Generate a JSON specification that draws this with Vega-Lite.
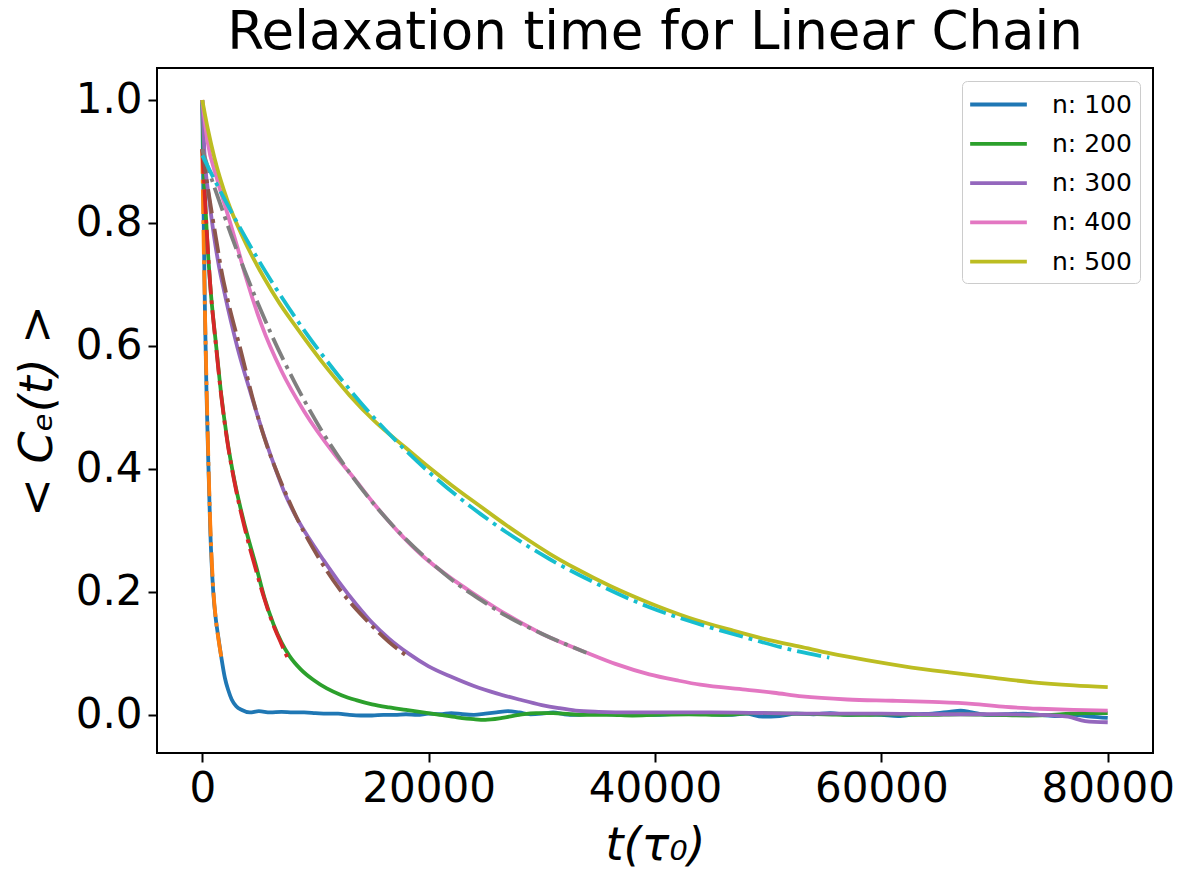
{
  "$schema": "https://vega.github.io/schema/vega-lite/v6.json",
  "width": 996,
  "height": 685,
  "autosize": {"type": "none"},
  "padding": {"left": 157, "top": 68, "right": 27, "bottom": 116},
  "background": "white",
  "config": {
    "font": "DejaVu Sans",
    "view": {"stroke": "black", "strokeWidth": 2},
    "axis": {"grid": false, "domain": false, "tickColor": "black", "tickWidth": 2, "tickSize": 9, "labelColor": "black", "titleColor": "black", "labelFontSize": 42, "titleFontSize": 46, "titleFontWeight": "normal", "titleFontStyle": "italic", "labelFlush": false, "labelPadding": 6, "labelOverlap": false}
  },
  "title": {"text": "Relaxation time for Linear Chain", "fontSize": 53, "fontWeight": "normal", "color": "black", "anchor": "middle", "offset": 8},
  "data": {
    "values": [
      {"s":"n: 100","k":"d","t":0,"c":1.0},{"s":"n: 100","k":"d","t":60,"c":0.9},{"s":"n: 100","k":"d","t":150,"c":0.77},{"s":"n: 100","k":"d","t":250,"c":0.64},{"s":"n: 100","k":"d","t":380,"c":0.52},{"s":"n: 100","k":"d","t":520,"c":0.42},{"s":"n: 100","k":"d","t":707,"c":0.3},{"s":"n: 100","k":"d","t":970,"c":0.2},{"s":"n: 100","k":"d","t":1200,"c":0.155},{"s":"n: 100","k":"d","t":1414,"c":0.127},{"s":"n: 100","k":"d","t":1680,"c":0.094},{"s":"n: 100","k":"d","t":2000,"c":0.06},{"s":"n: 100","k":"d","t":2300,"c":0.04},{"s":"n: 100","k":"d","t":2600,"c":0.025},{"s":"n: 100","k":"d","t":3000,"c":0.014},{"s":"n: 100","k":"d","t":3500,"c":0.008},{"s":"n: 100","k":"d","t":4200,"c":0.004},{"s":"n: 100","k":"d","t":5000,"c":0.006},{"s":"n: 100","k":"d","t":6000,"c":0.004},{"s":"n: 100","k":"d","t":7000,"c":0.005},{"s":"n: 100","k":"d","t":8000,"c":0.004},{"s":"n: 100","k":"d","t":9000,"c":0.004},{"s":"n: 100","k":"d","t":10000,"c":0.003},{"s":"n: 100","k":"d","t":11000,"c":0.002},{"s":"n: 100","k":"d","t":12000,"c":0.002},{"s":"n: 100","k":"d","t":13000,"c":0.0},{"s":"n: 100","k":"d","t":14000,"c":-0.001},{"s":"n: 100","k":"d","t":15000,"c":-0.001},{"s":"n: 100","k":"d","t":16000,"c":0.0},{"s":"n: 100","k":"d","t":17000,"c":0.0},{"s":"n: 100","k":"d","t":18000,"c":0.001},{"s":"n: 100","k":"d","t":19000,"c":0.0},{"s":"n: 100","k":"d","t":20000,"c":0.002},{"s":"n: 100","k":"d","t":21000,"c":0.001},{"s":"n: 100","k":"d","t":22000,"c":0.003},{"s":"n: 100","k":"d","t":23000,"c":0.001},{"s":"n: 100","k":"d","t":24000,"c":0.0},{"s":"n: 100","k":"d","t":25000,"c":0.002},{"s":"n: 100","k":"d","t":26000,"c":0.004},{"s":"n: 100","k":"d","t":27000,"c":0.006},{"s":"n: 100","k":"d","t":28000,"c":0.004},{"s":"n: 100","k":"d","t":29000,"c":0.001},{"s":"n: 100","k":"d","t":30000,"c":0.002},{"s":"n: 100","k":"d","t":31000,"c":0.004},{"s":"n: 100","k":"d","t":32000,"c":0.001},{"s":"n: 100","k":"d","t":33000,"c":0.0},{"s":"n: 100","k":"d","t":34500,"c":0.002},{"s":"n: 100","k":"d","t":36000,"c":0.001},{"s":"n: 100","k":"d","t":37500,"c":0.003},{"s":"n: 100","k":"d","t":39000,"c":0.001},{"s":"n: 100","k":"d","t":40500,"c":0.0},{"s":"n: 100","k":"d","t":42000,"c":0.002},{"s":"n: 100","k":"d","t":43500,"c":0.003},{"s":"n: 100","k":"d","t":45000,"c":0.001},{"s":"n: 100","k":"d","t":46500,"c":0.0},{"s":"n: 100","k":"d","t":48000,"c":0.002},{"s":"n: 100","k":"d","t":49500,"c":-0.003},{"s":"n: 100","k":"d","t":51000,"c":-0.002},{"s":"n: 100","k":"d","t":52500,"c":0.002},{"s":"n: 100","k":"d","t":54000,"c":0.001},{"s":"n: 100","k":"d","t":55500,"c":0.003},{"s":"n: 100","k":"d","t":57000,"c":0.0},{"s":"n: 100","k":"d","t":58500,"c":0.001},{"s":"n: 100","k":"d","t":60000,"c":0.0},{"s":"n: 100","k":"d","t":61500,"c":-0.002},{"s":"n: 100","k":"d","t":63000,"c":0.001},{"s":"n: 100","k":"d","t":64500,"c":0.002},{"s":"n: 100","k":"d","t":66000,"c":0.005},{"s":"n: 100","k":"d","t":67000,"c":0.007},{"s":"n: 100","k":"d","t":68000,"c":0.004},{"s":"n: 100","k":"d","t":69500,"c":0.0},{"s":"n: 100","k":"d","t":71000,"c":0.001},{"s":"n: 100","k":"d","t":72500,"c":0.002},{"s":"n: 100","k":"d","t":74000,"c":0.0},{"s":"n: 100","k":"d","t":75500,"c":-0.002},{"s":"n: 100","k":"d","t":77000,"c":0.0},{"s":"n: 100","k":"d","t":78500,"c":-0.003},{"s":"n: 100","k":"d","t":80000,"c":-0.005},

      {"s":"n: 200","k":"d","t":0,"c":1.0},{"s":"n: 200","k":"d","t":120,"c":0.9},{"s":"n: 200","k":"d","t":354,"c":0.8},{"s":"n: 200","k":"d","t":700,"c":0.7},{"s":"n: 200","k":"d","t":1240,"c":0.598},{"s":"n: 200","k":"d","t":1680,"c":0.52},{"s":"n: 200","k":"d","t":2210,"c":0.447},{"s":"n: 200","k":"d","t":2830,"c":0.382},{"s":"n: 200","k":"d","t":3800,"c":0.305},{"s":"n: 200","k":"d","t":4770,"c":0.241},{"s":"n: 200","k":"d","t":5500,"c":0.19},{"s":"n: 200","k":"d","t":6280,"c":0.148},{"s":"n: 200","k":"d","t":7000,"c":0.118},{"s":"n: 200","k":"d","t":7700,"c":0.096},{"s":"n: 200","k":"d","t":8700,"c":0.074},{"s":"n: 200","k":"d","t":9800,"c":0.057},{"s":"n: 200","k":"d","t":11000,"c":0.043},{"s":"n: 200","k":"d","t":12300,"c":0.032},{"s":"n: 200","k":"d","t":13600,"c":0.024},{"s":"n: 200","k":"d","t":15000,"c":0.017},{"s":"n: 200","k":"d","t":16500,"c":0.012},{"s":"n: 200","k":"d","t":18000,"c":0.008},{"s":"n: 200","k":"d","t":19500,"c":0.004},{"s":"n: 200","k":"d","t":21000,"c":0.0},{"s":"n: 200","k":"d","t":22500,"c":-0.004},{"s":"n: 200","k":"d","t":24000,"c":-0.007},{"s":"n: 200","k":"d","t":25000,"c":-0.008},{"s":"n: 200","k":"d","t":26500,"c":-0.005},{"s":"n: 200","k":"d","t":28000,"c":0.0},{"s":"n: 200","k":"d","t":29500,"c":0.003},{"s":"n: 200","k":"d","t":31000,"c":0.003},{"s":"n: 200","k":"d","t":32500,"c":0.001},{"s":"n: 200","k":"d","t":34000,"c":0.0},{"s":"n: 200","k":"d","t":36000,"c":0.0},{"s":"n: 200","k":"d","t":38000,"c":-0.001},{"s":"n: 200","k":"d","t":40000,"c":0.0},{"s":"n: 200","k":"d","t":43000,"c":0.001},{"s":"n: 200","k":"d","t":46000,"c":0.0},{"s":"n: 200","k":"d","t":49000,"c":0.003},{"s":"n: 200","k":"d","t":52000,"c":0.002},{"s":"n: 200","k":"d","t":55000,"c":0.001},{"s":"n: 200","k":"d","t":58000,"c":0.0},{"s":"n: 200","k":"d","t":61000,"c":0.001},{"s":"n: 200","k":"d","t":64000,"c":0.0},{"s":"n: 200","k":"d","t":67000,"c":0.001},{"s":"n: 200","k":"d","t":70000,"c":0.0},{"s":"n: 200","k":"d","t":73000,"c":-0.001},{"s":"n: 200","k":"d","t":76000,"c":0.001},{"s":"n: 200","k":"d","t":78000,"c":0.003},{"s":"n: 200","k":"d","t":80000,"c":0.003},

      {"s":"n: 300","k":"d","t":0,"c":1.0},{"s":"n: 300","k":"d","t":177,"c":0.919},{"s":"n: 300","k":"d","t":620,"c":0.837},{"s":"n: 300","k":"d","t":1060,"c":0.776},{"s":"n: 300","k":"d","t":1500,"c":0.727},{"s":"n: 300","k":"d","t":1945,"c":0.688},{"s":"n: 300","k":"d","t":3100,"c":0.598},{"s":"n: 300","k":"d","t":4330,"c":0.52},{"s":"n: 300","k":"d","t":5480,"c":0.452},{"s":"n: 300","k":"d","t":6630,"c":0.392},{"s":"n: 300","k":"d","t":7300,"c":0.36},{"s":"n: 300","k":"d","t":8300,"c":0.322},{"s":"n: 300","k":"d","t":9500,"c":0.285},{"s":"n: 300","k":"d","t":10700,"c":0.252},{"s":"n: 300","k":"d","t":12000,"c":0.218},{"s":"n: 300","k":"d","t":13600,"c":0.18},{"s":"n: 300","k":"d","t":15000,"c":0.15},{"s":"n: 300","k":"d","t":16500,"c":0.124},{"s":"n: 300","k":"d","t":18200,"c":0.1},{"s":"n: 300","k":"d","t":20000,"c":0.079},{"s":"n: 300","k":"d","t":22000,"c":0.062},{"s":"n: 300","k":"d","t":24000,"c":0.047},{"s":"n: 300","k":"d","t":26000,"c":0.035},{"s":"n: 300","k":"d","t":28000,"c":0.025},{"s":"n: 300","k":"d","t":30000,"c":0.016},{"s":"n: 300","k":"d","t":31500,"c":0.011},{"s":"n: 300","k":"d","t":33000,"c":0.007},{"s":"n: 300","k":"d","t":35000,"c":0.005},{"s":"n: 300","k":"d","t":38000,"c":0.004},{"s":"n: 300","k":"d","t":41000,"c":0.004},{"s":"n: 300","k":"d","t":45000,"c":0.004},{"s":"n: 300","k":"d","t":50000,"c":0.003},{"s":"n: 300","k":"d","t":55000,"c":0.002},{"s":"n: 300","k":"d","t":60000,"c":0.002},{"s":"n: 300","k":"d","t":65000,"c":0.001},{"s":"n: 300","k":"d","t":70000,"c":0.001},{"s":"n: 300","k":"d","t":74000,"c":0.0},{"s":"n: 300","k":"d","t":76500,"c":-0.003},{"s":"n: 300","k":"d","t":78000,"c":-0.01},{"s":"n: 300","k":"d","t":80000,"c":-0.012},

      {"s":"n: 400","k":"d","t":0,"c":1.0},{"s":"n: 400","k":"d","t":440,"c":0.935},{"s":"n: 400","k":"d","t":1330,"c":0.87},{"s":"n: 400","k":"d","t":2210,"c":0.816},{"s":"n: 400","k":"d","t":3100,"c":0.761},{"s":"n: 400","k":"d","t":3850,"c":0.712},{"s":"n: 400","k":"d","t":5220,"c":0.635},{"s":"n: 400","k":"d","t":6980,"c":0.56},{"s":"n: 400","k":"d","t":9020,"c":0.493},{"s":"n: 400","k":"d","t":11670,"c":0.424},{"s":"n: 400","k":"d","t":13440,"c":0.384},{"s":"n: 400","k":"d","t":15100,"c":0.345},{"s":"n: 400","k":"d","t":17300,"c":0.298},{"s":"n: 400","k":"d","t":19500,"c":0.258},{"s":"n: 400","k":"d","t":22000,"c":0.222},{"s":"n: 400","k":"d","t":24000,"c":0.197},{"s":"n: 400","k":"d","t":27000,"c":0.162},{"s":"n: 400","k":"d","t":30000,"c":0.132},{"s":"n: 400","k":"d","t":34000,"c":0.101},{"s":"n: 400","k":"d","t":36500,"c":0.083},{"s":"n: 400","k":"d","t":39500,"c":0.066},{"s":"n: 400","k":"d","t":42000,"c":0.056},{"s":"n: 400","k":"d","t":44000,"c":0.049},{"s":"n: 400","k":"d","t":48000,"c":0.041},{"s":"n: 400","k":"d","t":50500,"c":0.036},{"s":"n: 400","k":"d","t":53000,"c":0.03},{"s":"n: 400","k":"d","t":57000,"c":0.025},{"s":"n: 400","k":"d","t":61000,"c":0.023},{"s":"n: 400","k":"d","t":64500,"c":0.021},{"s":"n: 400","k":"d","t":68000,"c":0.018},{"s":"n: 400","k":"d","t":71000,"c":0.013},{"s":"n: 400","k":"d","t":74000,"c":0.01},{"s":"n: 400","k":"d","t":77000,"c":0.008},{"s":"n: 400","k":"d","t":80000,"c":0.007},

      {"s":"n: 500","k":"d","t":0,"c":1.0},{"s":"n: 500","k":"d","t":500,"c":0.952},{"s":"n: 500","k":"d","t":1060,"c":0.907},{"s":"n: 500","k":"d","t":2210,"c":0.837},{"s":"n: 500","k":"d","t":3710,"c":0.772},{"s":"n: 500","k":"d","t":5480,"c":0.71},{"s":"n: 500","k":"d","t":6800,"c":0.67},{"s":"n: 500","k":"d","t":8130,"c":0.635},{"s":"n: 500","k":"d","t":11050,"c":0.563},{"s":"n: 500","k":"d","t":13000,"c":0.52},{"s":"n: 500","k":"d","t":15200,"c":0.478},{"s":"n: 500","k":"d","t":18000,"c":0.434},{"s":"n: 500","k":"d","t":20000,"c":0.403},{"s":"n: 500","k":"d","t":22000,"c":0.374},{"s":"n: 500","k":"d","t":24500,"c":0.34},{"s":"n: 500","k":"d","t":26900,"c":0.308},{"s":"n: 500","k":"d","t":28500,"c":0.288},{"s":"n: 500","k":"d","t":30700,"c":0.262},{"s":"n: 500","k":"d","t":33000,"c":0.238},{"s":"n: 500","k":"d","t":36000,"c":0.21},{"s":"n: 500","k":"d","t":39500,"c":0.182},{"s":"n: 500","k":"d","t":43000,"c":0.158},{"s":"n: 500","k":"d","t":46900,"c":0.137},{"s":"n: 500","k":"d","t":50000,"c":0.122},{"s":"n: 500","k":"d","t":52800,"c":0.111},{"s":"n: 500","k":"d","t":55500,"c":0.1},{"s":"n: 500","k":"d","t":58700,"c":0.089},{"s":"n: 500","k":"d","t":62000,"c":0.079},{"s":"n: 500","k":"d","t":66000,"c":0.069},{"s":"n: 500","k":"d","t":70000,"c":0.06},{"s":"n: 500","k":"d","t":73400,"c":0.053},{"s":"n: 500","k":"d","t":77000,"c":0.048},{"s":"n: 500","k":"d","t":80000,"c":0.045},

      {"s":"fit 100","k":"f","t":0,"c":0.92},{"s":"fit 100","k":"f","t":150,"c":0.74},{"s":"fit 100","k":"f","t":300,"c":0.6},{"s":"fit 100","k":"f","t":450,"c":0.48},{"s":"fit 100","k":"f","t":707,"c":0.31},{"s":"fit 100","k":"f","t":970,"c":0.205},{"s":"fit 100","k":"f","t":1200,"c":0.155},{"s":"fit 100","k":"f","t":1414,"c":0.125},{"s":"fit 100","k":"f","t":1680,"c":0.094},

      {"s":"fit 200","k":"f","t":0,"c":0.92},{"s":"fit 200","k":"f","t":354,"c":0.8},{"s":"fit 200","k":"f","t":700,"c":0.7},{"s":"fit 200","k":"f","t":1240,"c":0.595},{"s":"fit 200","k":"f","t":1680,"c":0.518},{"s":"fit 200","k":"f","t":2210,"c":0.445},{"s":"fit 200","k":"f","t":2830,"c":0.38},{"s":"fit 200","k":"f","t":3800,"c":0.3},{"s":"fit 200","k":"f","t":4770,"c":0.234},{"s":"fit 200","k":"f","t":5500,"c":0.188},{"s":"fit 200","k":"f","t":6280,"c":0.146},{"s":"fit 200","k":"f","t":7000,"c":0.115},{"s":"fit 200","k":"f","t":7600,"c":0.09},

      {"s":"fit 300","k":"f","t":0,"c":0.92},{"s":"fit 300","k":"f","t":620,"c":0.842},{"s":"fit 300","k":"f","t":1240,"c":0.772},{"s":"fit 300","k":"f","t":1770,"c":0.715},{"s":"fit 300","k":"f","t":2210,"c":0.678},{"s":"fit 300","k":"f","t":3450,"c":0.589},{"s":"fit 300","k":"f","t":4600,"c":0.505},{"s":"fit 300","k":"f","t":5750,"c":0.436},{"s":"fit 300","k":"f","t":6810,"c":0.385},{"s":"fit 300","k":"f","t":8575,"c":0.312},{"s":"fit 300","k":"f","t":10300,"c":0.255},{"s":"fit 300","k":"f","t":12110,"c":0.205},{"s":"fit 300","k":"f","t":14300,"c":0.158},{"s":"fit 300","k":"f","t":16530,"c":0.118},{"s":"fit 300","k":"f","t":18300,"c":0.093},

      {"s":"fit 400","k":"f","t":0,"c":0.92},{"s":"fit 400","k":"f","t":800,"c":0.873},{"s":"fit 400","k":"f","t":1680,"c":0.826},{"s":"fit 400","k":"f","t":2560,"c":0.78},{"s":"fit 400","k":"f","t":3710,"c":0.724},{"s":"fit 400","k":"f","t":4900,"c":0.67},{"s":"fit 400","k":"f","t":6100,"c":0.619},{"s":"fit 400","k":"f","t":8130,"c":0.542},{"s":"fit 400","k":"f","t":10520,"c":0.463},{"s":"fit 400","k":"f","t":13170,"c":0.39},{"s":"fit 400","k":"f","t":15800,"c":0.329},{"s":"fit 400","k":"f","t":18030,"c":0.285},{"s":"fit 400","k":"f","t":20200,"c":0.248},{"s":"fit 400","k":"f","t":22450,"c":0.214},{"s":"fit 400","k":"f","t":24600,"c":0.187},{"s":"fit 400","k":"f","t":26870,"c":0.161},{"s":"fit 400","k":"f","t":30000,"c":0.132},{"s":"fit 400","k":"f","t":33940,"c":0.101},

      {"s":"fit 500","k":"f","t":0,"c":0.91},{"s":"fit 500","k":"f","t":1330,"c":0.861},{"s":"fit 500","k":"f","t":3100,"c":0.8},{"s":"fit 500","k":"f","t":4860,"c":0.743},{"s":"fit 500","k":"f","t":6360,"c":0.698},{"s":"fit 500","k":"f","t":9020,"c":0.625},{"s":"fit 500","k":"f","t":11930,"c":0.554},{"s":"fit 500","k":"f","t":14940,"c":0.488},{"s":"fit 500","k":"f","t":18030,"c":0.429},{"s":"fit 500","k":"f","t":20200,"c":0.392},{"s":"fit 500","k":"f","t":22450,"c":0.357},{"s":"fit 500","k":"f","t":24600,"c":0.3265},{"s":"fit 500","k":"f","t":26870,"c":0.297},{"s":"fit 500","k":"f","t":30670,"c":0.2535},{"s":"fit 500","k":"f","t":35000,"c":0.212},{"s":"fit 500","k":"f","t":39510,"c":0.175},{"s":"fit 500","k":"f","t":44000,"c":0.147},{"s":"fit 500","k":"f","t":48350,"c":0.124},{"s":"fit 500","k":"f","t":52000,"c":0.106},{"s":"fit 500","k":"f","t":55400,"c":0.093}
    ]
  },
  "encoding": {
    "x": {"field": "t", "type": "quantitative", "scale": {"domain": [-4000, 84000], "nice": false, "zero": false},
      "axis": {"values": [0, 20000, 40000, 60000, 80000], "format": "d", "title": "t(τ₀)", "titlePadding": 14}},
    "y": {"field": "c", "type": "quantitative", "scale": {"domain": [-0.062, 1.052], "nice": false, "zero": false},
      "axis": {"values": [0, 0.2, 0.4, 0.6, 0.8, 1.0], "format": ".1f", "title": "< Cₑ(t) >", "titlePadding": 14}}
  },
  "layer": [
    {
      "transform": [{"filter": "datum.k === 'd'"}],
      "mark": {"type": "line", "strokeWidth": 3.8, "interpolate": "monotone", "strokeCap": "butt"},
      "encoding": {
        "color": {"field": "s", "type": "nominal",
          "scale": {"domain": ["n: 100", "n: 200", "n: 300", "n: 400", "n: 500"], "range": ["#1f77b4", "#2ca02c", "#9467bd", "#e377c2", "#bcbd22"]},
          "legend": {"title": null, "orient": "top-right", "offset": 13, "padding": 8, "strokeColor": "#cccccc", "cornerRadius": 5, "fillColor": "rgba(255,255,255,0.8)", "symbolType": "M-2.1,0H2.1", "symbolStrokeWidth": 3.8, "symbolSize": 729, "symbolOffset": 13, "labelFontSize": 25, "labelColor": "black", "labelOffset": 38, "rowPadding": 10.3}}
      }
    },
    {
      "transform": [{"filter": "datum.k === 'f'"}],
      "mark": {"type": "line", "strokeWidth": 3.8, "interpolate": "monotone", "strokeDash": [24.5, 6, 3.8, 6], "strokeCap": "butt"},
      "encoding": {
        "color": {"field": "s", "type": "nominal",
          "scale": {"domain": ["fit 100", "fit 200", "fit 300", "fit 400", "fit 500"], "range": ["#ff7f0e", "#d62728", "#8c564b", "#7f7f7f", "#17becf"]},
          "legend": null}
      }
    }
  ],
  "resolve": {"scale": {"color": "independent"}, "legend": {"color": "independent"}}
}
